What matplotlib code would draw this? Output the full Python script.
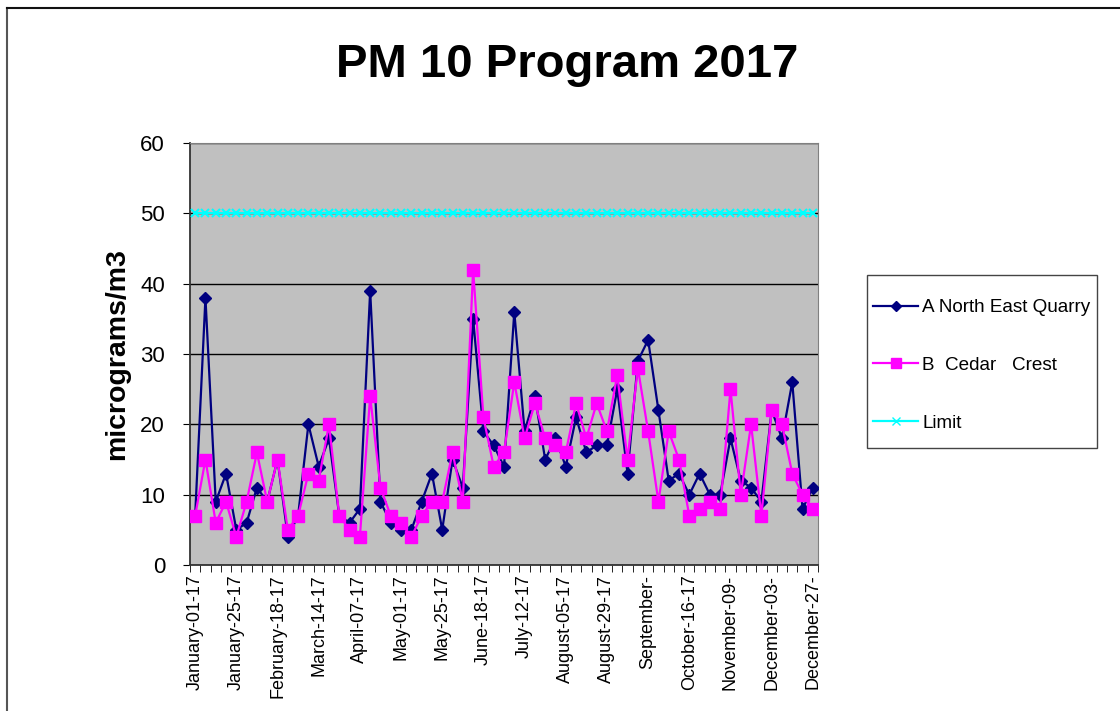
"""PM 10 Program 2017 - line chart of 6-day samples at two stations plus the limit."""

import numpy as np
import matplotlib
matplotlib.use("Agg")
import matplotlib.pyplot as plt
from matplotlib.lines import Line2D
from matplotlib.patches import Rectangle

plt.rcParams["font.family"] = ["Liberation Sans", "DejaVu Sans"]

# samples every 6 days, Jan 01 .. Dec 27 (61 samples)
north_east_quarry = [
    7, 38, 9, 13, 5, 6, 11, 9, 15, 4,
    7, 20, 14, 18, 7, 6, 8, 39, 9, 6,
    5, 5, 9, 13, 5, 15, 11, 35, 19, 17,
    14, 36, 19, 24, 15, 18, 14, 21, 16, 17,
    17, 25, 13, 29, 32, 22, 12, 13, 10, 13,
    10, 10, 18, 12, 11, 9, 22, 18, 26, 8,
    11,
]
cedar_crest = [
    7, 15, 6, 9, 4, 9, 16, 9, 15, 5,
    7, 13, 12, 20, 7, 5, 4, 24, 11, 7,
    6, 4, 7, 9, 9, 16, 9, 42, 21, 14,
    16, 26, 18, 23, 18, 17, 16, 23, 18, 23,
    19, 27, 15, 28, 19, 9, 19, 15, 7, 8,
    9, 8, 25, 10, 20, 7, 22, 20, 13, 10,
    8,
]
limit = [50] * len(cedar_crest)

# every 4th sample is labelled (Excel truncated the long ones)
tick_labels = [
    "January-01-17", "January-25-17", "February-18-17", "March-14-17",
    "April-07-17", "May-01-17", "May-25-17", "June-18-17", "July-12-17",
    "August-05-17", "August-29-17", "September-", "October-16-17",
    "November-09-", "December-03-", "December-27-",
]

NAVY = "#000080"
MAGENTA = "#FF00FF"
CYAN = "#00FFFF"

W, H = 1120, 711


def main():
    fig = plt.figure(figsize=(W / 100, H / 100), dpi=100)
    ax = fig.add_axes([190 / W, 1 - 565 / H, 628 / W, 422 / H])
    ax.set_facecolor("#C0C0C0")

    x = np.arange(len(cedar_crest))
    ax.plot(x, north_east_quarry, "-D", color=NAVY, lw=1.6, markersize=6,
            label="A North East Quarry", zorder=3)
    ax.plot(x, cedar_crest, "-s", color=MAGENTA, lw=1.6, markersize=9,
            label="B  Cedar   Crest", zorder=4)
    ax.plot(x, limit, "-x", color=CYAN, lw=1.6, markersize=6, mew=1.5,
            label="Limit", zorder=5)

    ax.set_xlim(-0.5, len(x) - 0.5)
    ax.set_ylim(0, 60)
    ax.set_yticks(np.arange(0, 61, 10))
    ax.yaxis.grid(True, color="black", lw=1)
    ax.set_axisbelow(True)
    ax.tick_params(axis="y", labelsize=16, length=5, direction="out", pad=13)

    ax.set_xticks(x[::4])
    ax.set_xticklabels(tick_labels, rotation=90, fontsize=13)
    ax.set_xticks(np.arange(-0.5, len(x), 1), minor=True)
    ax.tick_params(axis="x", which="major", length=0, pad=7)
    ax.tick_params(axis="x", which="minor", length=5, direction="out")

    for side in ["top", "right"]:
        ax.spines[side].set_color("#808080")
    for side in ["left", "bottom"]:
        ax.spines[side].set_color("#333333")
        ax.spines[side].set_linewidth(1.3)

    ax.set_ylabel("micrograms/m3", fontsize=20.5, fontweight="bold", labelpad=7)

    fig.text(0.506, 0.908, "PM 10 Program 2017", fontsize=34, fontweight="bold",
             ha="center", va="center")

    # legend: box drawn by hand so its size matches the Excel one
    fig.add_artist(Rectangle((867 / W, 1 - 448 / H), 230 / W, 173 / H,
                             transform=fig.transFigure, fill=False,
                             edgecolor="#444444", lw=1.0))
    handles = [
        Line2D([], [], color=NAVY, marker="D", markersize=5, lw=1.6),
        Line2D([], [], color=MAGENTA, marker="s", markersize=7, lw=1.6),
        Line2D([], [], color=CYAN, marker="x", markersize=6, lw=1.6),
    ]
    fig.legend(handles, ["A North East Quarry", "B  Cedar   Crest", "Limit"],
               loc="upper left", bbox_to_anchor=(873 / W, 1 - 299 / H),
               fontsize=13.6, frameon=False, handlelength=2.4,
               handletextpad=0.2, labelspacing=2.15, borderpad=0,
               borderaxespad=0)

    # chart area border (only top and left edges show in the crop)
    fig.add_artist(Line2D([7 / W, 7 / W], [0, 1 - 8 / H],
                          color="#555555", lw=1.5))
    fig.add_artist(Line2D([7 / W, 1], [1 - 8 / H, 1 - 8 / H],
                          color="#111111", lw=1.5))

    fig.savefig("out.png", dpi=100)


if __name__ == "__main__":
    main()
